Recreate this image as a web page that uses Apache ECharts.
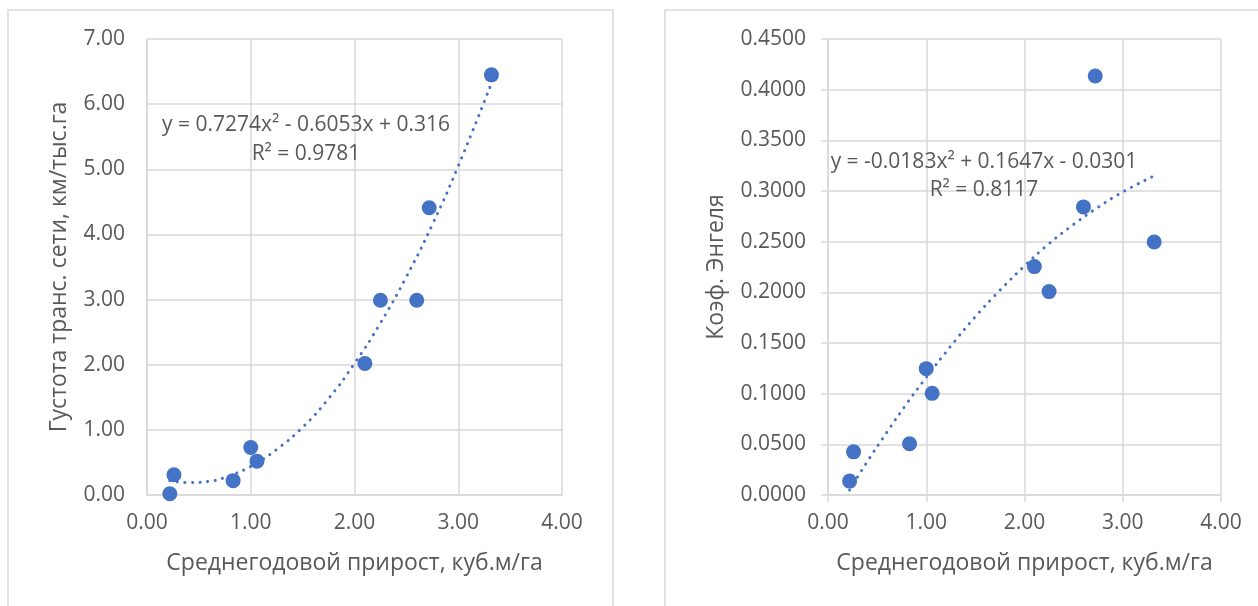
<!DOCTYPE html>
<html>
<head>
<meta charset="utf-8">
<script src="https://cdn.jsdelivr.net/npm/echarts@6/dist/echarts.min.js"></script>
<style>
  html, body { margin: 0; padding: 0; background: #fff; }
  #chart { width: 1258px; height: 606px; }
</style>
</head>
<body>
<div id="chart"></div>
<script>
// среднегодовой прирост (общая ось X обоих графиков)
var prirost = [0.22, 0.26, 0.83, 1.00, 1.06, 2.10, 2.25, 2.60, 2.72, 3.32];
// густота транспортной сети
var gustota = [0.02, 0.31, 0.22, 0.73, 0.52, 2.02, 2.99, 2.99, 4.41, 6.45];
// коэффициент Энгеля
var engel = [0.0137, 0.0426, 0.0506, 0.1247, 0.1003, 0.2254, 0.2007, 0.2843, 0.4135, 0.2497];

// точки линий тренда
var trendX = [0.22, 0.4, 0.6, 0.8, 1.0, 1.25, 1.5, 1.75, 2.0, 2.25, 2.5, 2.75, 3.0, 3.32];
var trendGustota = [0.22, 0.19, 0.21, 0.30, 0.44, 0.70, 1.04, 1.48, 2.02, 2.64, 3.35, 4.15, 5.05, 6.32];
var trendEngel = [0.005, 0.033, 0.062, 0.090, 0.116, 0.147, 0.176, 0.202, 0.226, 0.248, 0.267, 0.284, 0.299, 0.315];

var eqLeft = ['y = 0.7274x² - 0.6053x + 0.316', 'R² = 0.9781'];
var eqRight = ['y = -0.0183x² + 0.1647x - 0.0301', 'R² = 0.8117'];

var FONT = 'Open Sans';
var TXT = '#595959';
var GRIDC = '#D9D9D9';
var BLUE = '#4472C4';

function pairs(xs, ys) {
    var out = [];
    for (var i = 0; i < xs.length; i++) {
        out.push([xs[i], ys[i]]);
    }
    return out;
}

function xAxisCfg(idx, ticks) {
    return {
        type: 'value',
        gridIndex: idx,
        min: 0,
        max: 4,
        interval: 1,
        name: 'Среднегодовой прирост, куб.м/га',
        nameLocation: 'middle',
        nameGap: 57,
        nameTextStyle: { color: TXT, fontSize: 23, fontFamily: FONT },
        axisLine: { show: true, lineStyle: { color: GRIDC, width: 1.5 } },
        axisTick: { show: ticks, length: 7, lineStyle: { color: GRIDC, width: 1.5 } },
        axisLabel: {
            margin: 18,
            color: TXT, fontSize: 21, fontFamily: FONT,
            formatter: function (v) { return v.toFixed(2); }
        },
        splitLine: { show: true, lineStyle: { color: GRIDC, width: 1.5 } }
    };
}

function yAxisCfg(idx, max, step, digits, name, gap, ticks) {
    return {
        type: 'value',
        gridIndex: idx,
        min: 0,
        max: max,
        interval: step,
        name: name,
        nameLocation: 'middle',
        nameGap: gap,
        nameTextStyle: { color: TXT, fontSize: 23, fontFamily: FONT },
        axisLine: { show: true, lineStyle: { color: GRIDC, width: 1.5 } },
        axisTick: { show: ticks, length: 7, lineStyle: { color: GRIDC, width: 1.5 } },
        axisLabel: {
            margin: 22,
            color: TXT, fontSize: 21, fontFamily: FONT,
            formatter: function (v) { return v.toFixed(digits); }
        },
        splitLine: { show: true, lineStyle: { color: GRIDC, width: 1.5 } }
    };
}

function trendSeries(idx, data) {
    return {
        type: 'line',
        xAxisIndex: idx,
        yAxisIndex: idx,
        data: data,
        smooth: true,
        showSymbol: false,
        silent: true,
        z: 3,
        lineStyle: { color: BLUE, width: 3, type: [0.1, 7.5], cap: 'round' }
    };
}

function eqText(x, y, str) {
    return {
        type: 'text',
        x: x,
        y: y,
        z: 10,
        style: {
            text: str,
            fill: TXT,
            font: '21px "' + FONT + '"',
            textAlign: 'center',
            textVerticalAlign: 'middle'
        }
    };
}

var option = {
    backgroundColor: '#fff',
    animation: false,
    grid: [
        { left: 147, top: 39, width: 415, height: 456 },
        { left: 828, top: 39, width: 393, height: 456 }
    ],
    xAxis: [xAxisCfg(0, false), xAxisCfg(1, true)],
    yAxis: [
        yAxisCfg(0, 7, 1, 2, 'Густота транс. сети, км/тыс.га', 76, false),
        yAxisCfg(1, 0.45, 0.05, 4, 'Коэф. Энгеля', 100, true)
    ],
    series: [
        {
            type: 'scatter',
            xAxisIndex: 0,
            yAxisIndex: 0,
            data: pairs(prirost, gustota),
            symbolSize: 15,
            itemStyle: { color: BLUE, opacity: 1 }
        },
        trendSeries(0, pairs(trendX, trendGustota)),
        {
            type: 'scatter',
            xAxisIndex: 1,
            yAxisIndex: 1,
            data: pairs(prirost, engel),
            symbolSize: 15,
            itemStyle: { color: BLUE, opacity: 1 }
        },
        trendSeries(1, pairs(trendX, trendEngel))
    ],
    graphic: [
        // рамки двух диаграмм
        { type: 'rect', shape: { x: 8, y: 10, width: 605, height: 640 },
          style: { fill: 'none', stroke: GRIDC, lineWidth: 1.5 } },
        { type: 'rect', shape: { x: 665, y: 10, width: 640, height: 640 },
          style: { fill: 'none', stroke: GRIDC, lineWidth: 1.5 } },
        eqText(306, 125, eqLeft[0]),
        eqText(306, 154, eqLeft[1]),
        eqText(984, 162, eqRight[0]),
        eqText(984, 190, eqRight[1])
    ]
};

var myChart = echarts.init(document.getElementById('chart'));
myChart.setOption(option);
</script>
</body>
</html>
